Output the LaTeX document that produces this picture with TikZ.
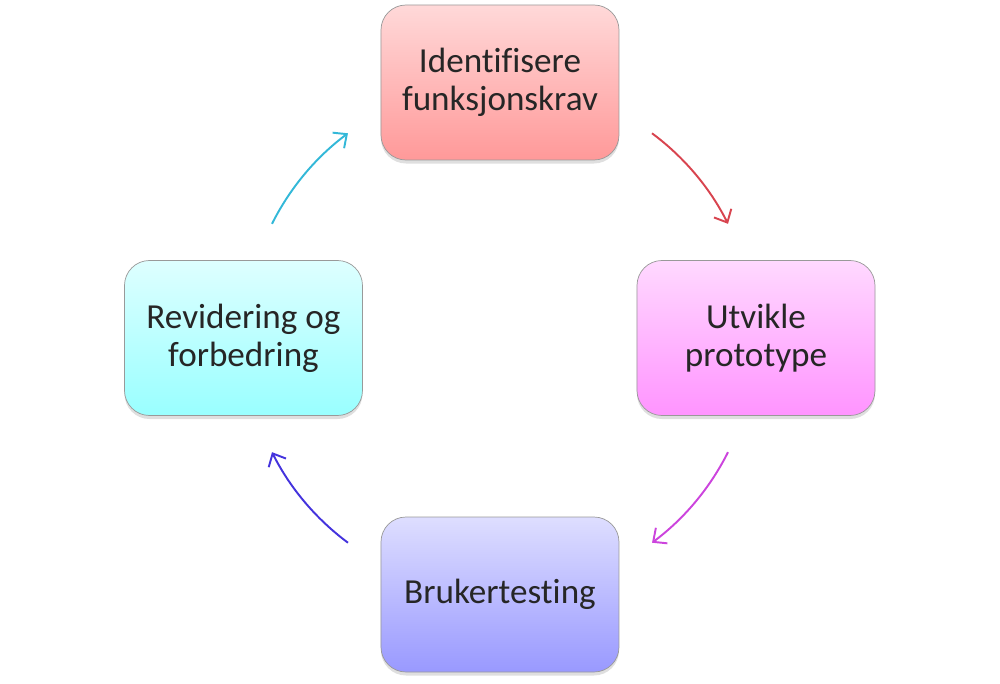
\documentclass[tikz,border=0pt]{standalone}
\usepackage{fontspec}
\setmainfont[Ligatures=NoCommon]{Carlito}
\usetikzlibrary{arrows.meta,shapes,shadows}

\definecolor{txtgray}{HTML}{262626}
\definecolor{redline}{HTML}{D8444F}
\definecolor{pinkline}{HTML}{CC44DD}
\definecolor{blueline}{HTML}{4433DD}
\definecolor{cyanline}{HTML}{33B8D8}

\begin{document}
\begin{tikzpicture}
  [every node/.style={rounded corners=0.5cm,draw=gray!80,thin,
     minimum width=4.76cm,minimum height=3.1cm,align=center,
     text=txtgray,font=\fontsize{20}{21.5}\selectfont,
     drop shadow={opacity=0.25,shadow xshift=0pt,shadow yshift=-2pt}},
   cyc/.style={line width=1.1pt,-{Straight Barb[length=6pt,width=11pt,line width=1.1pt]}}]
  \useasboundingbox (-10,-6.92) rectangle (10,6.76);
  \node[top color=red!15,bottom color=red!40!white] (krav) at (0,5.11) {Identifisere\\funksjonskrav};
  \node[top color=magenta!15,bottom color=magenta!42!white] (proto) at (5.12,0) {Utvikle\\prototype};
  \node[top color=blue!13,bottom color=blue!40!white] (test) at (0,-5.13) {Brukertesting};
  \node[top color=cyan!13,bottom color=cyan!40!white] (revid) at (-5.13,0) {Revidering og\\forbedring};

  \coordinate (a1) at (53.4:5.1);
  \coordinate (a2) at (-26.6:5.1);
  \coordinate (a3) at (233.4:5.1);
  \coordinate (a4) at (153.4:5.1);

  \draw[cyc,redline] (a1) arc[start angle=53.4,end angle=26.6,radius=5.1];
  \draw[cyc,pinkline] (a2) arc[start angle=-26.6,end angle=-53.4,radius=5.1];
  \draw[cyc,blueline] (a3) arc[start angle=233.4,end angle=206.6,radius=5.1];
  \draw[cyc,cyanline] (a4) arc[start angle=153.4,end angle=126.6,radius=5.1];
\end{tikzpicture}
\end{document}
